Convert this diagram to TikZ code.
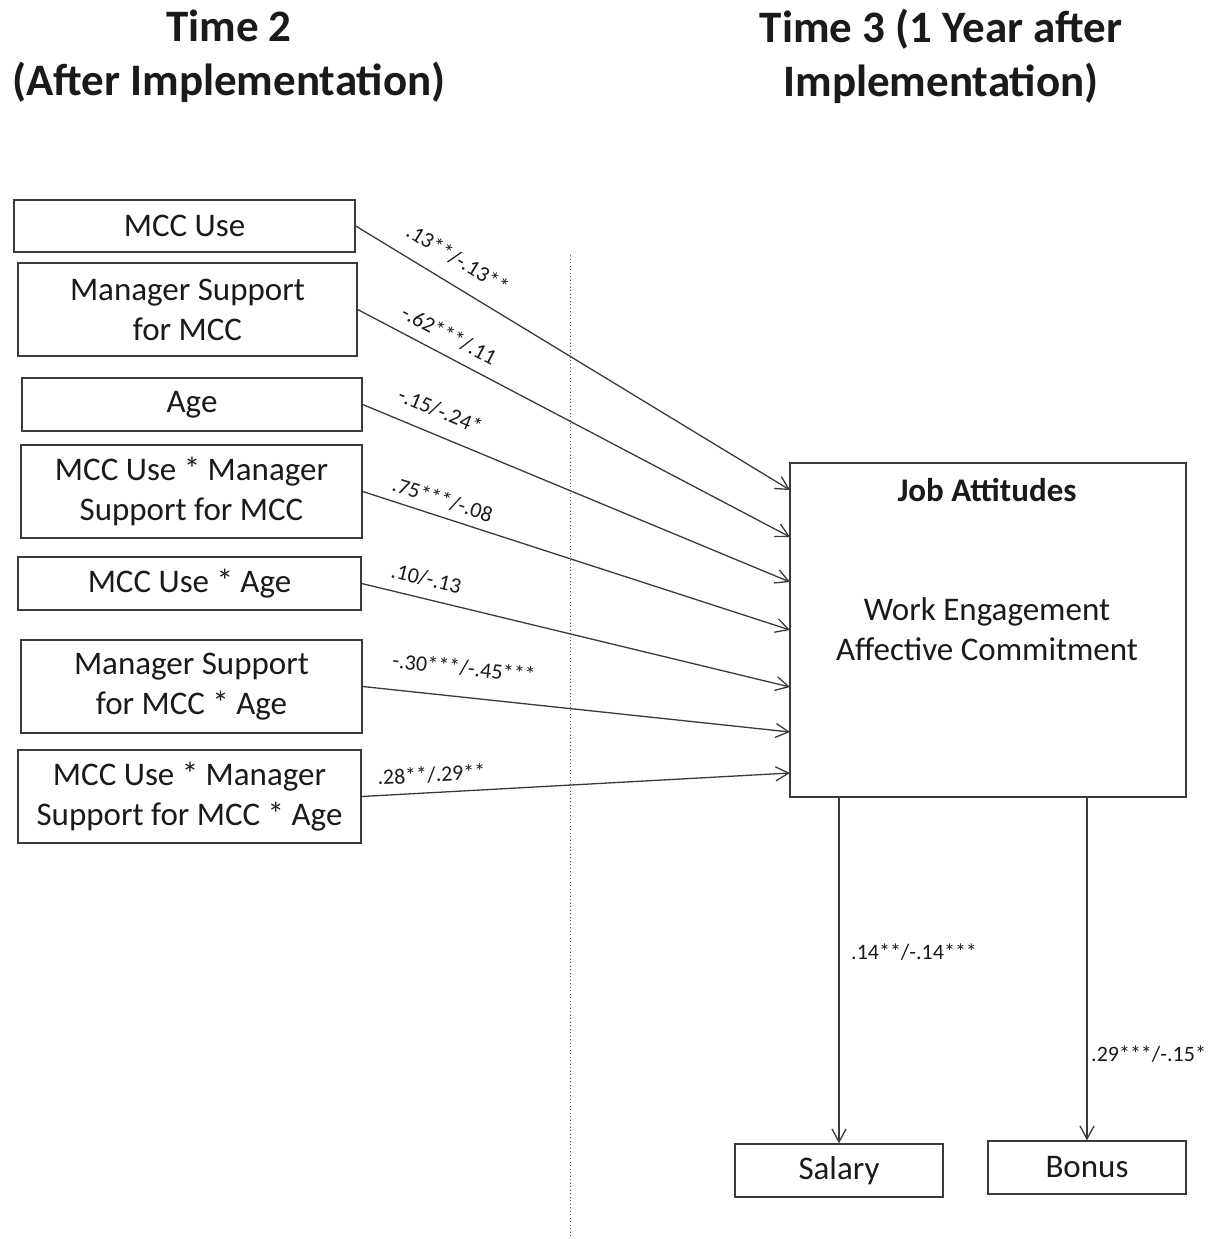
\documentclass[tikz,border=0pt]{standalone}
\usepackage{fontspec}
\setmainfont{Carlito}
\usetikzlibrary{arrows.meta}
\definecolor{ink}{HTML}{1A1A1A}
\definecolor{edge}{HTML}{3A3A3A}
\tikzset{
  box/.style={draw=edge, line width=1.4pt, inner sep=0pt, align=center, text=ink,
    font=\fontsize{33}{40}\selectfont},
  title/.style={align=center, text=ink, font=\fontsize{45}{54}\selectfont\bfseries},
  inner/.style={text=ink, align=center, font=\fontsize{33}{40}\selectfont},
  conn/.style={draw=edge, line width=1.3pt, -{Straight Barb[length=13pt,width=14pt,line width=1.3pt]}},
  lab/.style={text=ink, font=\fontsize{22}{24}\selectfont, inner sep=0pt, text height=14pt, text depth=3pt},
}
\begin{document}
\begin{tikzpicture}[x=1pt,y=-1pt]
\useasboundingbox (0,0) rectangle (1215,1239);
% titles
\node[title] (t2) at (229,56) {Time 2\\(After Implementation)};
\node[title] (t3) at (941,56) {Time 3 (1 Year after\\Implementation)};
% divider
\coordinate (d1) at (570,255);
\coordinate (d2) at (570,1239);
\draw[edge!80, line width=1pt, dash pattern=on 1pt off 2.5pt] (d1) -- (d2);
% left boxes
\node[box, minimum width=341pt, minimum height=52pt] (b1) at (184.5,226) {MCC Use};
\node[box, minimum width=339pt, minimum height=93pt] (b2) at (187.5,309.5) {Manager Support\\for MCC};
\node[box, minimum width=340pt, minimum height=53pt] (b3) at (192,404.5) {Age};
\node[box, minimum width=341pt, minimum height=93pt] (b4) at (191.5,491.5) {MCC Use * Manager\\Support for MCC};
\node[box, minimum width=343pt, minimum height=53pt] (b5) at (189.5,583.5) {MCC Use * Age};
\node[box, minimum width=341pt, minimum height=93pt] (b6) at (191.5,686.5) {Manager Support\\for MCC * Age};
\node[box, minimum width=343pt, minimum height=93pt] (b7) at (189.5,796.5) {MCC Use * Manager\\Support for MCC * Age};
% job attitudes
\node[box, minimum width=396pt, minimum height=334pt] (job) at (988,630) {};
\node[inner, font=\fontsize{33}{40}\selectfont\bfseries] (jt) at (987,490) {Job Attitudes};
\node[inner] (jw) at (987,629) {Work Engagement\\Affective Commitment};
% outcomes
\node[box, minimum width=208pt, minimum height=53pt] (sal) at (839,1170.5) {Salary};
\node[box, minimum width=198pt, minimum height=53pt] (bon) at (1087,1167.5) {Bonus};
% targets
\coordinate (e1) at (790,490);
\coordinate (e2) at (790,537);
\coordinate (e3) at (790,582);
\coordinate (e4) at (790,630);
\coordinate (e5) at (790,687);
\coordinate (e6) at (790,732);
\coordinate (e7) at (790,773);
\draw[conn] (b1.east) -- node[lab, sloped, pos=0.205, above=14pt] (l1) {.13**/-.13**} (e1);
\draw[conn] (b2.east) -- node[lab, sloped, pos=0.19, above=9pt] (l2) {-.62***/.11} (e2);
\draw[conn] (b3.east) -- node[lab, sloped, pos=0.16, above=13pt] (l3) {-.15/-.24*} (e3);
\draw[conn] (b4.east) -- node[lab, sloped, pos=0.175, above=6pt] (l4) {.75***/-.08} (e4);
\draw[conn] (b5.east) -- node[lab, sloped, pos=0.14, above=9pt] (l5) {.10/-.13} (e5);
\draw[conn] (b6.east) -- node[lab, sloped, pos=0.23, above=18pt] (l6) {-.30***/-.45***} (e6);
\draw[conn] (b7.east) -- node[lab, sloped, pos=0.165, above=7pt] (l7) {.28**/.29**} (e7);
% bottom arrows
\draw[conn] (job.south -| sal.north) -- (sal.north);
\draw[conn] (job.south -| bon.north) -- (bon.north);
\node[lab, anchor=west] (l8) at (851,954) {.14**/-.14***};
\node[lab, anchor=west] (l9) at (1091,1056) {.29***/-.15*};
\end{tikzpicture}
\end{document}
